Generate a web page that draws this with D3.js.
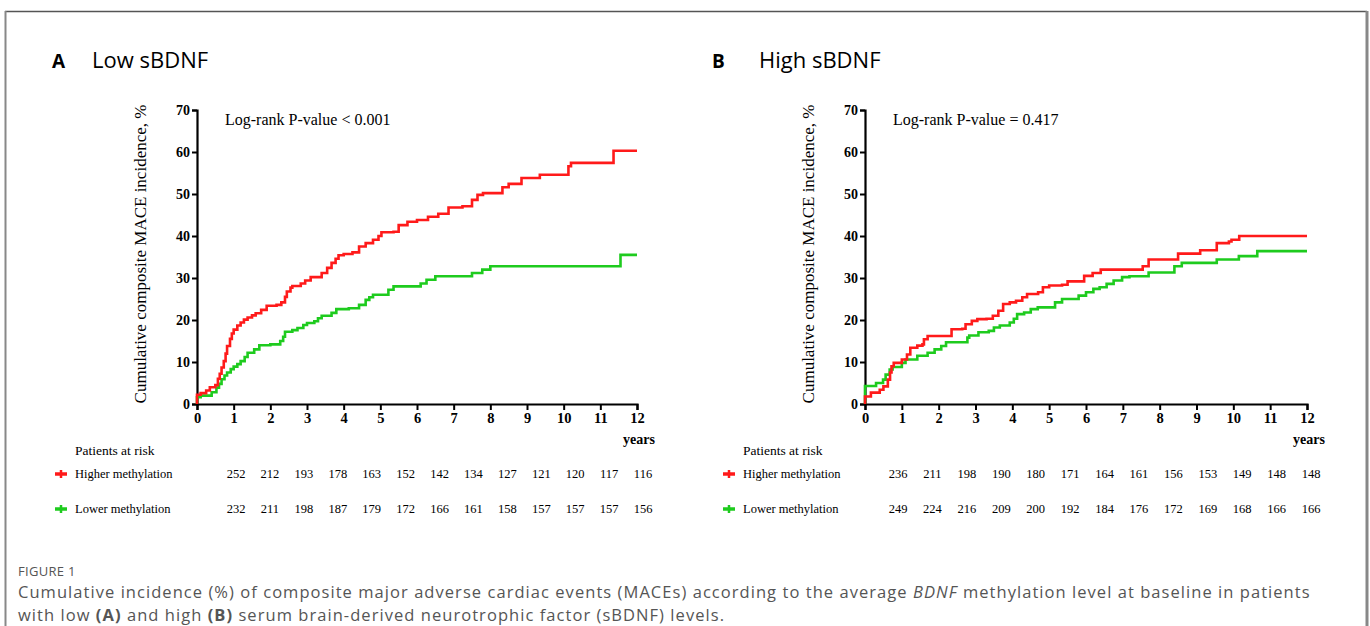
<!DOCTYPE html>
<html>
<head>
  <meta charset="utf-8">
  <script src="https://cdn.jsdelivr.net/npm/d3@7"></script>
  <style>
    html, body {
        margin: 0px;
        padding: 0px;
        background: #fff;
    }
    .serif { font-family: "Liberation Serif", "Times New Roman", serif; }
    .sans { font-family: "Open Sans", "Lato", sans-serif; }
  </style>
  <title></title>
</head>
<body>
<div id="chart"></div>
<script>
    // axis ticks and risk table time points
    var years = [0, 1, 2, 3, 4, 5, 6, 7, 8, 9, 10, 11, 12];
    var yTicks = [0, 10, 20, 30, 40, 50, 60, 70];

    // step curves: [years, cumulative %]
    var lowHigher = [[0,0],[0,2.2],[0.1,2.6],[0.25,3.2],[0.35,4],[0.5,4.5],[0.57,6],[0.62,7.2],[0.67,8.7],[0.73,10.2],
        [0.78,12],[0.82,13.8],[0.9,15.5],[0.95,16.8],[1.0,17.7],[1.1,18.7],[1.19,19.4],[1.28,20.1],[1.38,20.6],[1.5,21.1],
        [1.6,21.6],[1.75,22.4],[1.9,23.4],[2.17,23.6],[2.3,24.2],[2.4,25.5],[2.45,26.8],[2.55,27.7],[2.6,28.1],[2.83,28.7],
        [2.95,29.4],[3.1,30.2],[3.4,31.2],[3.55,32.4],[3.67,33.6],[3.78,34.6],[3.86,35.4],[4.0,35.7],[4.24,36.1],[4.42,37.5],
        [4.6,38.3],[4.8,39.1],[4.95,40],[5.03,40.9],[5.36,41],[5.5,42.6],[5.74,43.4],[6.0,43.8],[6.3,44.6],[6.58,45.3],
        [6.86,46.8],[7.24,47.1],[7.5,48.6],[7.65,49.8],[7.8,50.2],[8.18,50.2],[8.33,51.6],[8.5,52.4],[8.85,53.8],[9.35,54.6],
        [10.13,56.6],[10.2,57.4],[11.36,60.3],[12,60.3]];
    var lowLower = [[0,0],[0,1.6],[0.1,2],[0.4,2.8],[0.53,3.9],[0.6,4.8],[0.67,5.9],[0.75,6.8],[0.82,7.5],[0.92,8.3],
        [1.0,8.9],[1.1,9.5],[1.19,10.2],[1.3,11.2],[1.38,12.2],[1.56,13],[1.7,14],[2.0,14.2],[2.27,15],[2.35,16],
        [2.4,17.2],[2.6,17.6],[2.74,18.1],[2.9,18.8],[3.0,19.3],[3.2,19.7],[3.3,20.4],[3.4,21],[3.67,21.7],[3.8,22.6],
        [4.14,22.8],[4.42,23.6],[4.6,24.8],[4.7,25.4],[4.8,26],[5.13,26],[5.22,27.2],[5.36,28],[5.9,28],[6.1,28.7],
        [6.26,29.6],[6.5,30.4],[7.5,31.2],[7.78,32],[8.0,32.8],[11.55,35.5],[12,35.5]];
    var highHigher = [[0,0],[0,1.8],[0.16,2.7],[0.4,3.4],[0.5,4.2],[0.62,5.8],[0.68,7.5],[0.72,9],[0.78,9.8],[1.0,10.6],
        [1.14,11.8],[1.23,13.4],[1.42,13.9],[1.56,14.2],[1.6,15.4],[1.7,16.2],[2.26,16.2],[2.35,17.8],[2.64,17.9],[2.73,19],
        [2.9,19.8],[3.05,20.2],[3.3,20.3],[3.47,21],[3.62,22.2],[3.75,23.8],[3.93,24.2],[4.1,24.6],[4.27,25.4],[4.4,26.2],
        [4.7,26.6],[4.83,27.8],[5.0,28.2],[5.35,28.4],[5.5,29.2],[5.95,30.5],[6.18,31.2],[6.4,32],[7.3,32],[7.54,32.8],
        [7.7,34.4],[8.38,34.4],[8.5,35.8],[9.1,36.6],[9.55,38.3],[9.88,38.7],[9.95,39.1],[10.16,40],[12,40]];
    var highLower = [[0,0],[0,4.3],[0.3,5],[0.49,5.8],[0.56,7],[0.67,8.2],[0.75,8.8],[1.0,9.8],[1.1,10.6],[1.42,11.5],
        [1.7,12.2],[1.89,13],[2.07,13.8],[2.2,14.7],[2.78,15.8],[2.83,16.3],[3.08,17.1],[3.36,17.4],[3.5,18.2],[3.66,18.7],
        [3.93,19.4],[4.04,20.3],[4.13,21.4],[4.32,21.8],[4.5,22.6],[4.69,23],[5.16,24.2],[5.35,25],[5.8,25.8],[6.0,26.6],
        [6.2,27.4],[6.37,27.8],[6.56,28.6],[6.75,29.4],[6.98,30.2],[7.18,30.4],[7.7,31.3],[8.4,32.8],[8.6,33.6],[9.55,34.4],
        [10.15,35.2],[10.65,36.4],[12,36.4]];

    // patients at risk
    var riskLowHigher = [252, 212, 193, 178, 163, 152, 142, 134, 127, 121, 120, 117, 116];
    var riskLowLower = [232, 211, 198, 187, 179, 172, 166, 161, 158, 157, 157, 157, 156];
    var riskHighHigher = [236, 211, 198, 190, 180, 171, 164, 161, 156, 153, 149, 148, 148];
    var riskHighLower = [249, 224, 216, 209, 200, 192, 184, 176, 172, 169, 168, 166, 166];

    var red = "#ff1a1a", green = "#1ecb1e";

    var svg = d3.select("#chart").append("svg")
        .attr("width", 1370).attr("height", 626);

    // frame
    svg.append("line").attr("x1", 5).attr("x2", 1367).attr("y1", 11.5).attr("y2", 11.5)
        .style("stroke", "#555").style("stroke-width", 1.5);
    svg.append("line").attr("x1", 5.5).attr("x2", 5.5).attr("y1", 11).attr("y2", 626)
        .style("stroke", "#888").style("stroke-width", 2);
    svg.append("line").attr("x1", 1367).attr("x2", 1367).attr("y1", 11).attr("y2", 626)
        .style("stroke", "#888").style("stroke-width", 3);

    function drawPanel(opt) {
        var g = svg.append("g");
        var x = d3.scaleLinear().domain([0, 12]).range([opt.x0, opt.x1]);
        var y = d3.scaleLinear().domain([0, 70]).range([404, 110]);

        g.append("text").attr("class", "sans").attr("x", opt.lx).attr("y", 68)
            .style("font-size", "19px").style("font-weight", "bold").text(opt.letter);
        g.append("text").attr("class", "sans").attr("x", opt.tx).attr("y", 68)
            .style("font-size", "22px").text(opt.title);

        var yAxis = g.append("g").attr("transform", "translate(" + opt.x0 + ",0)")
            .call(d3.axisLeft(y).tickValues(yTicks).tickSize(5).tickPadding(2));
        var xAxis = g.append("g").attr("transform", "translate(0,404)")
            .call(d3.axisBottom(x).tickValues(years).tickSize(6).tickPadding(3));
        [yAxis, xAxis].forEach(function(a) {
            a.select(".domain").style("stroke", "#000").style("stroke-width", 2.2);
            a.selectAll(".tick line").style("stroke", "#000").style("stroke-width", 2);
            a.selectAll("text").attr("class", "serif").style("font-weight", "bold")
                .style("fill", "#000").style("font-size", "14.5px");
        });
        yAxis.selectAll("text").style("font-size", "14px");

        g.append("text").attr("class", "serif")
            .attr("transform", "translate(" + (opt.x0 - 51) + ",254) rotate(-90)")
            .attr("text-anchor", "middle").style("font-size", "17px")
            .text("Cumulative composite MACE incidence, %");
        g.append("text").attr("class", "serif").attr("x", opt.x0 + 28).attr("y", 125)
            .style("font-size", "16px").text(opt.pval);
        g.append("text").attr("class", "serif").attr("x", opt.x1 - 14).attr("y", 444)
            .style("font-size", "14px").style("font-weight", "bold").text("years");

        var line = d3.line().x(function(d) { return x(d[0]); }).y(function(d) { return y(d[1]); })
            .curve(d3.curveStepAfter);
        g.append("path").datum(opt.lower).attr("d", line)
            .style("fill", "none").style("stroke", green).style("stroke-width", 2.6);
        g.append("path").datum(opt.higher).attr("d", line)
            .style("fill", "none").style("stroke", red).style("stroke-width", 2.6);

        // patients at risk table
        var col = d3.scaleLinear().domain([0, 12]).range([opt.c0, opt.c1]);
        g.append("text").attr("class", "serif").attr("x", opt.rx).attr("y", 455)
            .style("font-size", "13.5px").text("Patients at risk");
        var rows = [{name: "Higher methylation", c: red, v: opt.riskHigher, y: 478},
                    {name: "Lower methylation", c: green, v: opt.riskLower, y: 513}];
        rows.forEach(function(r) {
            var mx = opt.rx - 14;
            g.append("line").attr("x1", mx - 6).attr("x2", mx + 6).attr("y1", r.y - 4).attr("y2", r.y - 4)
                .style("stroke", r.c).style("stroke-width", 3.5);
            g.append("line").attr("x1", mx).attr("x2", mx).attr("y1", r.y - 8).attr("y2", r.y)
                .style("stroke", r.c).style("stroke-width", 2.5);
            g.append("text").attr("class", "serif").attr("x", opt.rx).attr("y", r.y)
                .style("font-size", "12.5px").text(r.name);
            g.selectAll(null).data(r.v).enter().append("text").attr("class", "serif")
                .attr("x", function(d, i) { return col(years[i]); }).attr("y", r.y)
                .attr("text-anchor", "middle").style("font-size", "12.5px")
                .text(function(d) { return d; });
        });
    }

    drawPanel({letter: "A", title: "Low sBDNF", lx: 52, tx: 92, rx: 75, x0: 197, x1: 637, c0: 236, c1: 643,
        pval: "Log-rank P-value < 0.001", higher: lowHigher, lower: lowLower,
        riskHigher: riskLowHigher, riskLower: riskLowLower});
    drawPanel({letter: "B", title: "High sBDNF", lx: 712, tx: 759, rx: 743, x0: 865, x1: 1307, c0: 898, c1: 1311,
        pval: "Log-rank P-value = 0.417", higher: highHigher, lower: highLower,
        riskHigher: riskHighHigher, riskLower: riskHighLower});

    // caption
    svg.append("text").attr("class", "sans").attr("x", 18).attr("y", 576)
        .style("font-size", "13px").style("fill", "#555").style("letter-spacing", "0.3px").text("FIGURE 1");
    var cap1 = svg.append("text").attr("class", "sans").attr("x", 18).attr("y", 598)
        .style("font-size", "16.5px").style("fill", "#555").style("letter-spacing", "1.05px");
    cap1.append("tspan").text("Cumulative incidence (%) of composite major adverse cardiac events (MACEs) according to the average ");
    cap1.append("tspan").style("font-style", "italic").text("BDNF");
    cap1.append("tspan").text(" methylation level at baseline in patients");
    var cap2 = svg.append("text").attr("class", "sans").attr("x", 18).attr("y", 621)
        .style("font-size", "16.5px").style("fill", "#555").style("letter-spacing", "1.05px");
    cap2.append("tspan").text("with low ");
    cap2.append("tspan").style("font-weight", "bold").text("(A)");
    cap2.append("tspan").text(" and high ");
    cap2.append("tspan").style("font-weight", "bold").text("(B)");
    cap2.append("tspan").text(" serum brain-derived neurotrophic factor (sBDNF) levels.");
</script>
</body>
</html>
